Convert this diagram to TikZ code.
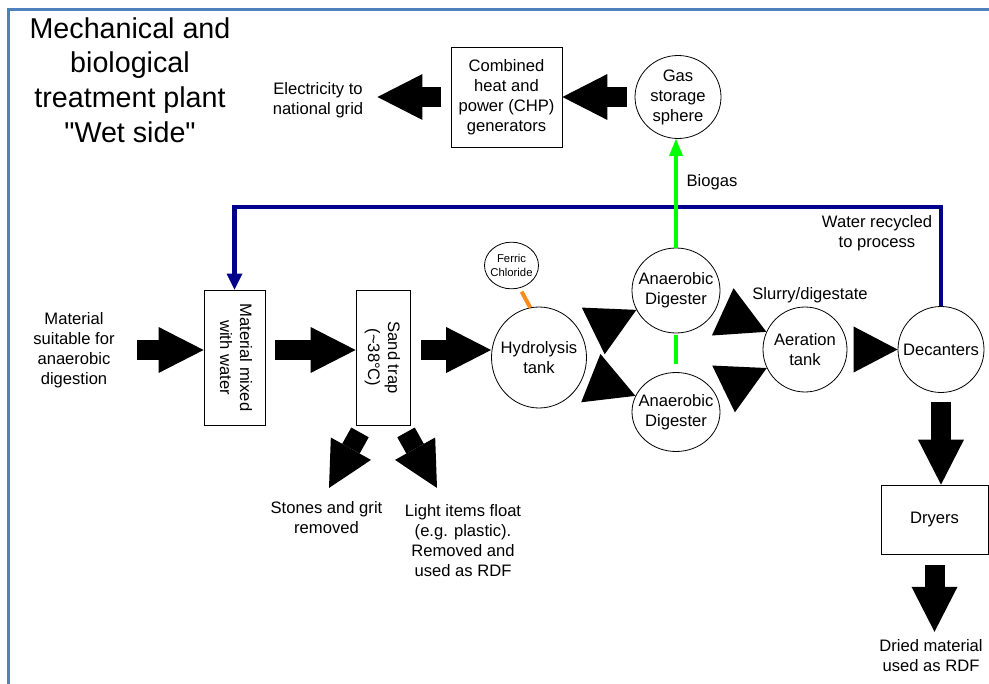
\documentclass[tikz,border=0pt]{standalone}
\usepackage{fontspec}
\setmainfont{Liberation Sans}
\newfontfamily\plainsans{Liberation Sans}
\usetikzlibrary{shapes.geometric, arrows.meta, positioning}
\definecolor{frameblue}{RGB}{79,129,189}
\definecolor{recycleblue}{RGB}{0,0,139}
\definecolor{biogasgreen}{RGB}{0,255,0}
\definecolor{ferricorange}{RGB}{250,140,30}
\tikzset{
  lbl/.style={font=\fontsize{12.45}{15}\selectfont, align=center, inner sep=0pt},
  tank/.style={ellipse, draw, line width=0.6pt, fill=white, lbl, inner xsep=-8pt, inner ysep=0pt},
  unit/.style={rectangle, draw, line width=0.6pt, fill=white, lbl},
  flow/.style={line width=15pt, -{Triangle[length=33.75pt, width=34.5pt, line width=0pt]}},
  flowhead/.style={line width=1pt, -{Triangle[length=36pt, width=39pt, line width=0pt]}},
  recycle/.style={draw=recycleblue, line width=3.4pt, -{Triangle[length=12pt, width=12pt, line width=0pt]}},
  biogas/.style={draw=biogasgreen, line width=3.4pt},
}

\begin{document}
\begin{tikzpicture}[x=0.75pt, y=-0.75pt]
  \useasboundingbox (0,0) rectangle (989,684);
  \draw[frameblue, line width=1.9pt] (8.5,684) -- (8.5,9.5) -- (989,9.5);

  \node[lbl, font=\plainsans\fontsize{21.5}{25.9}\selectfont] (title) at (130,80) {Mechanical and\\biological\\treatment plant\\"Wet side"};

  % top row: gas to electricity
  \node[lbl] (elec) at (318,100.5) {Electricity to\\national grid};
  \node[unit, minimum width=83.25pt, minimum height=75pt] (chp) at (506.5,97) {Combined\\heat and\\power (CHP)\\generators};
  \node[tank, minimum width=64.5pt, minimum height=62.25pt] (gas) at (678,97) {Gas\\storage\\sphere};
  \node[lbl] (biogaslbl) at (712,182) {Biogas};
  \node[lbl] (recyclelbl) at (877,233) {Water recycled\\to process};

  % main row
  \node[lbl] (feed) at (74,350) {Material\\suitable for\\anaerobic\\digestion};
  \node[unit, minimum width=45.75pt, minimum height=101.25pt] (mix) at (234.5,357.5) {};
  \node[lbl, rotate=-90] (mixlbl) at (236,357.5) {Material mixed\\with water};
  \node[unit, minimum width=40.5pt, minimum height=101.25pt] (sand) at (383,357.5) {};
  \node[lbl, rotate=-90] (sandlbl) at (382.5,357.5) {Sand trap\\(\textasciitilde38°C)};
  \node[tank, minimum width=40.5pt, minimum height=35pt, font=\fontsize{8.5}{10.8}\selectfont] (ferric) at (511.5,265.5) {Ferric\\Chloride};
  \node[tank, minimum width=71.25pt, minimum height=75.75pt] (hyd) at (539,357.5) {Hydrolysis\\tank};
  \node[tank, minimum width=66pt, minimum height=63.75pt] (ad1) at (676,290.5) {Anaerobic\\Digester};
  \node[tank, minimum width=66pt, minimum height=59.25pt] (ad2) at (676,412) {Anaerobic\\Digester};
  \node[lbl] (slurrylbl) at (810,295) {Slurry/digestate};
  \node[tank, minimum width=63pt, minimum height=63.75pt] (aer) at (805,349.5) {Aeration\\tank};
  \node[tank, minimum width=64.5pt, minimum height=64.5pt] (dec) at (941,349.5) {Decanters};
  \node[unit, minimum width=80.25pt, minimum height=51.75pt] (dry) at (934.5,519.5) {Dryers};

  % outputs
  \node[lbl] (stones) at (326.5,518) {Stones and grit\\removed};
  \node[lbl] (light) at (463,540.5) {Light items float\\(e.g. plastic).\\Removed and\\used as RDF};
  \node[lbl] (dried) at (931,655.5) {Dried material\\used as RDF};
  \coordinate (grit) at (329,488);
  \coordinate (float) at (437,488);
  \coordinate (looptop) at (0,207);

  \draw[flow, shorten <=7.5pt, shorten >=10.5pt] (chp.west) -- (elec.east |- chp.west);
  \draw[flow, shorten <=6pt] (gas) -- (chp);
  \draw[flow, shorten <=16.5pt] (feed.east) -- (feed.east -| mix.west);
  \draw[flow, shorten <=7.5pt] (mix.east |- feed.east) -- (sand.west |- feed.east);
  \draw[flow, shorten <=8.25pt] (sand.east |- feed.east) -- (hyd.west |- feed.east);
  \draw[flow] ([shift={(-23,7)}]sand.south) -- (grit);
  \draw[flow] ([shift={(23,7)}]sand.south) -- (float);
  \draw[flow, shorten <=7pt] (dec.south) -- (dec.south |- dry.north);
  \draw[flow, shorten <=8.25pt, shorten >=5.5pt] (dry.south) -- (dry.south |- dried.north);

  \draw[flowhead, shorten <=9pt] (hyd) -- (ad1);
  \draw[flowhead, shorten <=6pt] (hyd) -- (ad2);
  \draw[flowhead, shorten <=6pt] (ad1) -- (aer);
  \draw[flowhead, shorten <=7.5pt] (ad2) -- (aer);
  \draw[flowhead, -{Triangle[length=33pt, width=34.5pt, line width=0pt]}, shorten <=5pt] (aer) -- (dec);

  \draw[recycle] (dec.north) -- (dec.north |- looptop) -| (mix.north);
  \draw[biogas, -{Triangle[length=12.75pt, width=10.5pt, line width=0pt]}] (ad1.north) -- (ad1.north |- gas.south);
  \draw[biogas, shorten <=1.5pt, shorten >=6pt] (ad1) -- (ad2);
  \draw[ferricorange, line width=3pt, shorten <=3pt] (ferric.-70) -- (hyd.100);
\end{tikzpicture}
\end{document}
